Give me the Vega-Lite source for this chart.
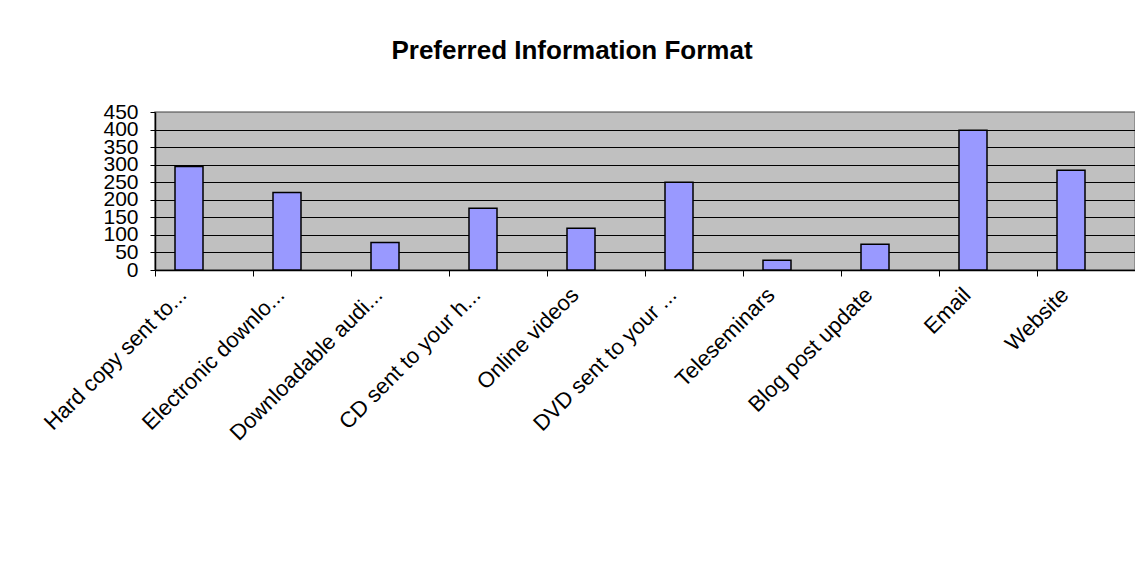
{
  "$schema": "https://vega.github.io/schema/vega-lite/v6.json",
  "autosize": {"type": "none"},
  "width": 980,
  "height": 158,
  "padding": {"left": 155, "top": 112, "right": 0, "bottom": 304},
  "background": "white",
  "title": {
    "text": "Preferred Information Format",
    "font": "Liberation Sans",
    "fontSize": 26,
    "fontWeight": "bold",
    "color": "black",
    "anchor": "middle",
    "frame": "group",
    "dx": -73,
    "baseline": "alphabetic",
    "offset": 16
  },
  "data": {
    "values": [
      {"category": "Hard copy sent to...", "value": 295},
      {"category": "Electronic downlo...", "value": 221},
      {"category": "Downloadable audi...", "value": 78},
      {"category": "CD sent to your h...", "value": 176},
      {"category": "Online videos", "value": 119},
      {"category": "DVD sent to your ...", "value": 250},
      {"category": "Teleseminars", "value": 28},
      {"category": "Blog post update", "value": 73},
      {"category": "Email", "value": 398},
      {"category": "Website", "value": 284}
    ]
  },
  "mark": {"type": "bar", "width": 28, "xOffset": -15, "fill": "#9999FF", "stroke": "black", "strokeWidth": 1.5},
  "encoding": {
    "x": {
      "field": "category",
      "type": "nominal",
      "sort": null,
      "scale": {"paddingInner": 0, "paddingOuter": 0},
      "axis": {
        "title": null,
        "bandPosition": 0,
        "labelOffset": -21,
        "labelAngle": -45,
        "labelAlign": "right",
        "labelBaseline": "middle",
        "labelPadding": 15,
        "labelFont": "Liberation Sans",
        "labelFontSize": 22,
        "labelColor": "black",
        "labelLimit": 0,
        "labelOverlap": false,
        "tickSize": 6,
        "tickColor": "black",
        "domainColor": "black",
        "domainWidth": 1.5,
        "grid": false
      }
    },
    "y": {
      "field": "value",
      "type": "quantitative",
      "scale": {"domain": [0, 450], "nice": false},
      "axis": {
        "title": null,
        "values": [0, 50, 100, 150, 200, 250, 300, 350, 400, 450],
        "labelFont": "Liberation Sans",
        "labelFontSize": 21,
        "labelColor": "black",
        "labelOverlap": false,
        "labelPadding": 12,
        "tickSize": 5,
        "tickColor": "black",
        "domainColor": "black",
        "domainWidth": 1.5,
        "grid": true,
        "gridColor": {"condition": {"test": "datum.value === 450", "value": "#808080"}, "value": "black"},
        "gridWidth": 1.2,
        "gridOpacity": 1
      }
    }
  },
  "config": {
    "view": {"fill": "#C0C0C0", "stroke": "#808080", "strokeWidth": 1.5}
  }
}
